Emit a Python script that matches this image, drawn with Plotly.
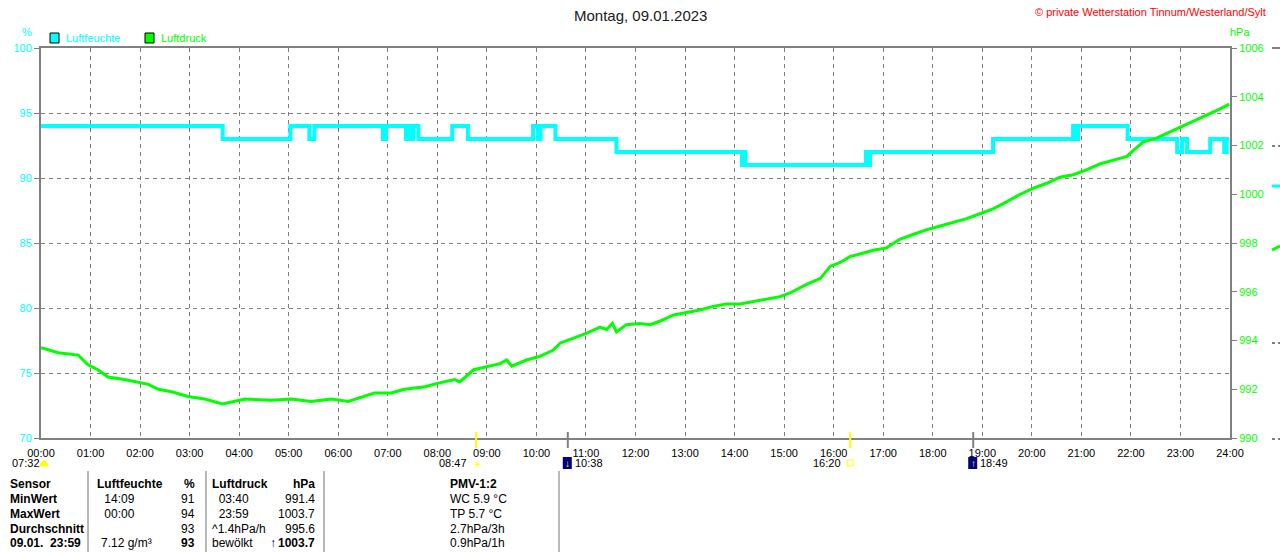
import plotly.graph_objects as go

# page geometry in pixels (1280 x 552 window)
W, H = 1280, 552
L, R, T, B = 41, 1230, 48, 438

CYAN = "#00ffff"
GREEN = "#00ff00"
GRID = "#808080"
SEP = "#a0a0a0"
YELLOW = "#ffff00"
FONT = "Liberation Sans, Arial, sans-serif"

# ---------------- data ----------------
hum_time = ["00:00", "03:40", "05:02", "05:25", "05:31", "06:54", "06:58", "07:22",
            "07:25", "07:28", "07:31", "07:37", "08:18", "08:37", "09:56", "10:02",
            "10:05", "10:23", "11:37", "14:09", "14:11", "14:13", "16:39", "16:41",
            "16:44", "19:13", "20:50", "20:53", "20:56", "21:56", "22:56", "23:02",
            "23:08", "23:36", "23:53", "23:56", "23:59"]
hum_val = [94, 93, 94, 93, 94, 93, 94, 93,
           94, 93, 94, 93, 94, 93, 94, 93,
           94, 93, 92, 91, 92, 91, 92, 91,
           92, 93, 94, 93, 94, 93, 92, 93,
           92, 93, 92, 93, 93]

pres_time = ["00:00", "00:21", "00:45", "00:57", "01:09", "01:21", "01:41", "01:57",
             "02:10", "02:22", "02:38", "02:58", "03:18", "03:40", "04:07", "04:39",
             "05:03", "05:27", "05:52", "06:12", "06:32", "06:44", "07:04", "07:20",
             "07:45", "08:01", "08:21", "08:27", "08:44", "08:56", "09:16", "09:24",
             "09:30", "09:48", "10:04", "10:20", "10:29", "10:45", "11:01", "11:17",
             "11:25", "11:32", "11:37", "11:49", "12:05", "12:18", "12:30", "12:46",
             "13:02", "13:18", "13:34", "13:50", "14:07", "14:23", "14:39", "14:55",
             "15:07", "15:27", "15:44", "15:56", "16:08", "16:20", "16:32", "16:48",
             "17:04", "17:20", "17:36", "17:53", "18:09", "18:25", "18:41", "18:57",
             "19:13", "19:30", "19:46", "20:02", "20:18", "20:34", "20:50", "21:06",
             "21:23", "21:39", "21:55", "22:03", "22:15", "22:31", "22:47", "23:03",
             "23:20", "23:36", "23:48", "23:59"]
pres_val = [993.7, 993.5, 993.4, 993.0, 992.8, 992.5, 992.4, 992.3,
            992.2, 992.0, 991.9, 991.7, 991.6, 991.4, 991.6, 991.55,
            991.6, 991.5, 991.6, 991.5, 991.7, 991.85, 991.85, 992.0,
            992.1, 992.25, 992.4, 992.3, 992.8, 992.9, 993.05, 993.2,
            992.95, 993.2, 993.35, 993.6, 993.9, 994.1, 994.3, 994.55,
            994.45, 994.7, 994.35, 994.65, 994.7, 994.65, 994.8, 995.05,
            995.15, 995.25, 995.4, 995.5, 995.5, 995.6, 995.7, 995.8,
            995.95, 996.3, 996.55, 997.05, 997.2, 997.45, 997.55, 997.7,
            997.8, 998.15, 998.35, 998.55, 998.7, 998.85, 999.0, 999.2,
            999.4, 999.7, 1000.0, 1000.25, 1000.45, 1000.7, 1000.8, 1001.0,
            1001.25, 1001.4, 1001.55, 1001.8, 1002.15, 1002.3, 1002.55, 1002.8,
            1003.05, 1003.3, 1003.5, 1003.7]

hour_ticks = list(range(25))
hour_labels = [f"{h:02d}:00" for h in hour_ticks]

# sun / moon events below the time axis
event_time = ["08:47", "10:38", "16:20", "18:49"]
event_kind = ["sunrise", "moonset", "sunset", "moonrise"]
dawn_label = "07:32"

# statistics table under the chart
row_labels = ["Sensor", "MinWert", "MaxWert", "Durchschnitt", "09.01.  23:59"]
hum_when = ["Luftfeuchte", " 14:09", " 00:00", "", "7.12 g/m³"]
hum_stat = ["%", "91", "94", "93", "<b>93</b>"]
pres_when = ["Luftdruck", "  03:40", "  23:59", "^1.4hPa/h", "bewölkt"]
pres_stat = ["hPa", "991.4", "1003.7", "995.6", "<b>1003.7</b>"]
pmv_col = ["PMV-1:2", "WC 5.9 °C", "TP 5.7 °C", "2.7hPa/3h", "0.9hPa/1h"]


def hours(t):
    h, m = t.split(":")
    return int(h) + int(m) / 60


def xp(px):
    return (px - L) / (R - L)


def yp(py):
    return (B - py) / (B - T)


fig = go.Figure()

fig.add_trace(go.Scatter(
    x=[hours(t) for t in hum_time], y=hum_val,
    mode="lines", line=dict(color=CYAN, width=4, shape="hv"),
    name="Luftfeuchte", hoverinfo="skip",
))
fig.add_trace(go.Scatter(
    x=[hours(t) for t in pres_time], y=pres_val, yaxis="y2",
    mode="lines", line=dict(color=GREEN, width=3),
    name="Luftdruck", hoverinfo="skip",
))

fig.update_layout(
    width=W, height=H, autosize=False,
    margin=dict(l=L, r=W - R, t=T, b=H - B, pad=0),
    paper_bgcolor="white", plot_bgcolor="white",
    font=dict(family=FONT, size=11, color="black"),
    showlegend=False, hovermode=False,
    xaxis=dict(
        range=[0, 24], tickvals=hour_ticks, ticktext=hour_labels,
        showgrid=True, gridcolor=GRID, gridwidth=1, griddash="4px,4px",
        showline=True, linecolor=GRID, linewidth=2, mirror=True,
        ticks="outside", ticklen=4, tickcolor="rgba(0,0,0,0)",
        tickfont=dict(size=11, color="black"), zeroline=False, fixedrange=True,
    ),
    yaxis=dict(
        range=[70, 100], dtick=5,
        showgrid=True, gridcolor=GRID, gridwidth=1, griddash="4px,4px",
        showline=True, linecolor=GRID, linewidth=2,
        ticks="outside", ticklen=5, tickcolor=GRID, tickwidth=1,
        tickfont=dict(size=11, color=CYAN), zeroline=False, fixedrange=True,
    ),
    yaxis2=dict(
        range=[990, 1006], dtick=2, overlaying="y", side="right",
        showgrid=False, showline=True, linecolor=GRID, linewidth=2,
        ticks="outside", ticklen=5, tickcolor=GRID, tickwidth=1,
        tickfont=dict(size=11, color=GREEN), zeroline=False, fixedrange=True,
    ),
)

ann = []
shapes = []


def text(px, py, s, color="black", size=11, xanchor="left", bold=False):
    ann.append(dict(
        x=xp(px), y=yp(py), xref="paper", yref="paper",
        text=f"<b>{s}</b>" if bold and s else s, showarrow=False,
        xanchor=xanchor, yanchor="middle",
        font=dict(family=FONT, size=size, color=color),
    ))


# titles and axis units
text(640, 15, "Montag, 09.01.2023", color="#202020", size=15, xanchor="center")
text(1268, 12, "© private Wetterstation Tinnum/Westerland/Sylt", color="#ff0000",
     size=11, xanchor="right")
text(27, 32, "%", color=CYAN, xanchor="center")
text(1240, 32, "hPa", color=GREEN, xanchor="center")

# legend
for x0, col, name in [(50, CYAN, "Luftfeuchte"), (145, GREEN, "Luftdruck")]:
    shapes.append(dict(type="rect", xref="paper", yref="paper",
                       x0=xp(x0), x1=xp(x0 + 9), y0=yp(43), y1=yp(33),
                       fillcolor=col, line=dict(color="black", width=1)))
    text(x0 + 14, 38, name, color=col)

# sun / moon markers on the time axis
for t, kind in zip(event_time, event_kind):
    x = hours(t)
    sun = kind.startswith("sun")
    shapes.append(dict(type="line", xref="x", yref="paper", x0=x, x1=x,
                       y0=yp(432), y1=yp(448),
                       line=dict(color=YELLOW if sun else GRID, width=2)))
    if sun:
        ann.append(dict(x=x, y=yp(463), xref="x", yref="paper", text=t,
                        showarrow=False, xanchor="right", yanchor="middle",
                        xshift=-7, font=dict(size=11, color="black")))
        if kind == "sunrise":
            ann.append(dict(x=x, y=yp(464), xref="x", yref="paper", text="☀",
                            showarrow=False, xanchor="left", yanchor="middle",
                            xshift=-5, font=dict(family="DejaVu Sans", size=10,
                                                 color=YELLOW)))
        else:
            shapes.append(dict(type="rect", xref="x", yref="paper",
                               xsizemode="pixel", ysizemode="pixel",
                               xanchor=x, yanchor=yp(463),
                               x0=-3, x1=3, y0=-3, y1=3,
                               line=dict(color=YELLOW, width=1)))
    else:
        shapes.append(dict(type="rect", xref="x", yref="paper",
                           xsizemode="pixel", ysizemode="pixel",
                           xanchor=x, yanchor=yp(463),
                           x0=-5, x1=4, y0=-6, y1=6,
                           fillcolor="#000080", line=dict(width=0)))
        ann.append(dict(x=x, y=yp(463), xref="x", yref="paper",
                        text="↓" if kind == "moonset" else "↑",
                        showarrow=False, xanchor="center", yanchor="middle",
                        xshift=0, font=dict(size=10, color=YELLOW)))
        ann.append(dict(x=x, y=yp(463), xref="x", yref="paper", text=t,
                        showarrow=False, xanchor="left", yanchor="middle",
                        xshift=5, font=dict(size=11, color="black")))

text(10, 463, dawn_label)
shapes.append(dict(type="path", xref="paper", yref="paper",
                   path=f"M {xp(40)},{yp(466)} Q {xp(44)},{yp(455)} {xp(48)},{yp(466)} Z",
                   fillcolor=YELLOW, line=dict(color=YELLOW, width=1)))

# small cut-off marks right of the pressure axis
for py, col, dash in [(48, GRID, "solid"), (146, GRID, "dot"), (343, GRID, "dot"),
                      (439, GRID, "dot")]:
    shapes.append(dict(type="line", xref="paper", yref="paper",
                       x0=xp(1272), x1=xp(1280), y0=yp(py), y1=yp(py),
                       line=dict(color=col, width=2, dash=dash)))
shapes.append(dict(type="line", xref="paper", yref="paper",
                   x0=xp(1272), x1=xp(1280), y0=yp(186), y1=yp(186),
                   line=dict(color=CYAN, width=3)))
shapes.append(dict(type="line", xref="paper", yref="paper",
                   x0=xp(1272), x1=xp(1280), y0=yp(250), y1=yp(246),
                   line=dict(color=GREEN, width=3)))

# statistics table
for sx in [88, 206, 324, 559]:
    shapes.append(dict(type="line", xref="paper", yref="paper",
                       x0=xp(sx), x1=xp(sx), y0=yp(471), y1=yp(552),
                       line=dict(color=SEP, width=1.5)))

row_y = [484, 499, 514, 529, 543]
for i, y in enumerate(row_y):
    head = i == 0
    text(8, y, row_labels[i], size=12, bold=True)
    text(95 if head else 99, y, hum_when[i], size=12, bold=head)
    text(197, y, hum_stat[i], size=12, xanchor="right", bold=head)
    text(210, y, pres_when[i], size=12, bold=head)
    text(317, y, pres_stat[i], size=12, xanchor="right", bold=head)
    text(448, y, pmv_col[i], size=12, bold=head)

text(273, 543, "<b>↑</b>", color="#000080", size=12, xanchor="center")

fig.update_layout(annotations=ann, shapes=shapes)

# the page is photographed from its top-left corner: drop the default body margin
fig.write_html("out.html", config={"displayModeBar": False},
               post_script="document.body.style.margin='0px';")
